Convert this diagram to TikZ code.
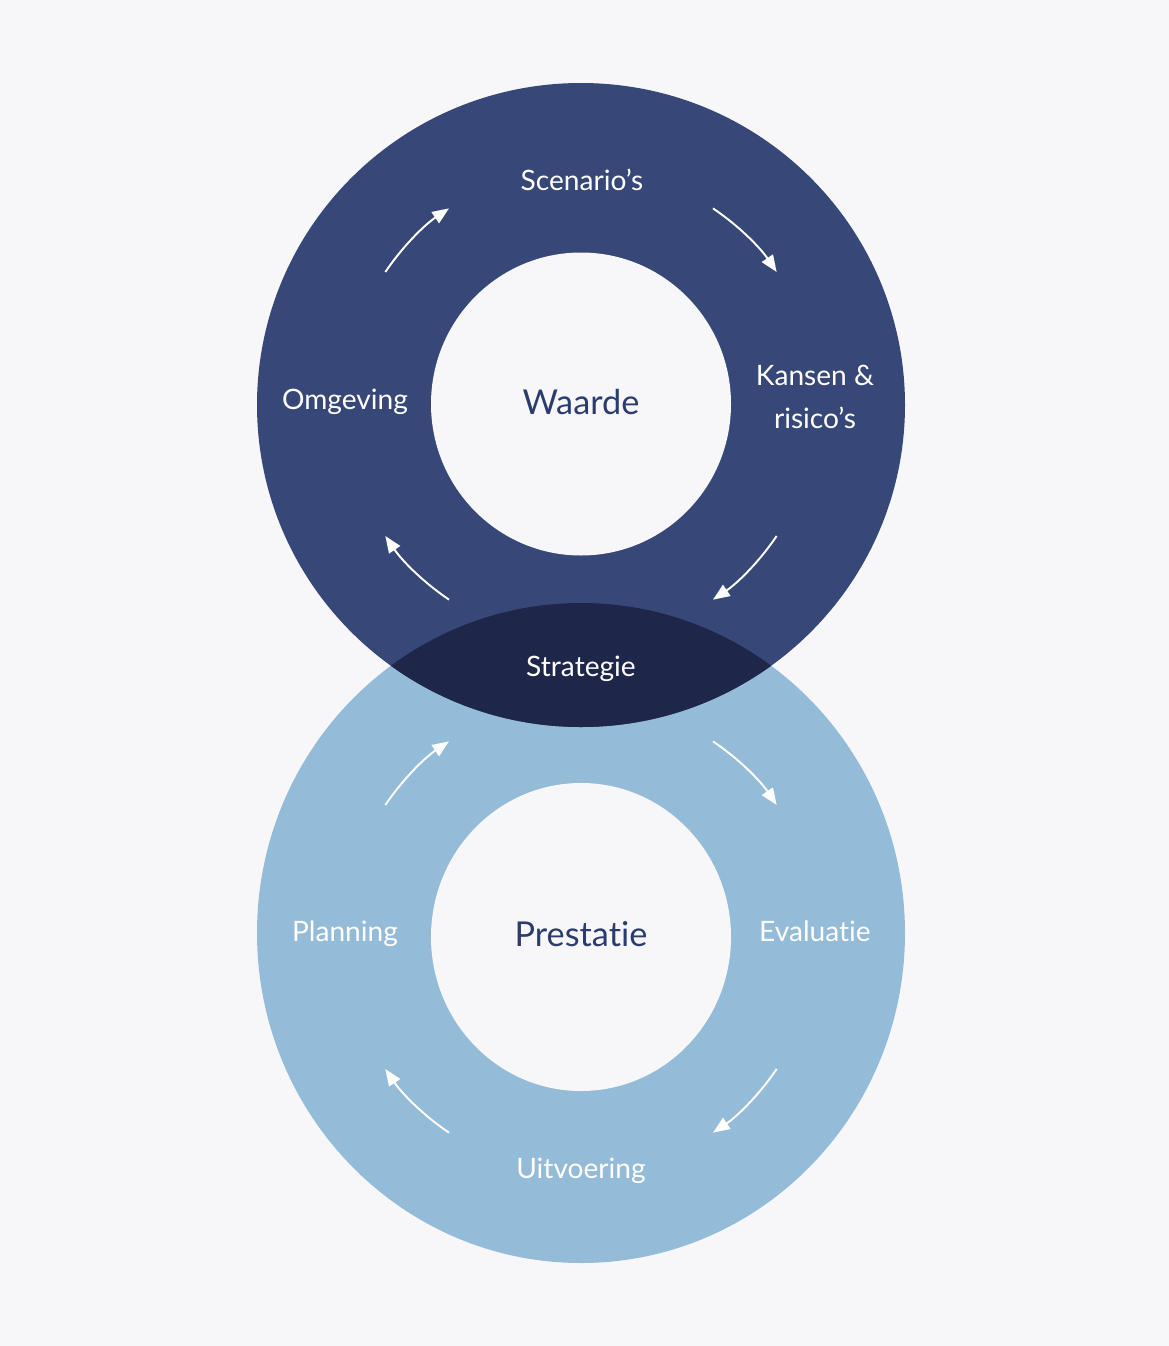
\documentclass[tikz,border=0pt]{standalone}
\usepackage{fontspec}
\setmainfont{Lato}[Ligatures={TeX,NoCommon}]
\usetikzlibrary{arrows.meta}
\definecolor{pagebg}{HTML}{F7F7FA}
\definecolor{ringtop}{HTML}{374878}
\definecolor{ringbot}{HTML}{94BBD8}
\definecolor{lensdark}{HTML}{1E264A}
\definecolor{coretext}{HTML}{2B3C6E}
\begin{document}
\begin{tikzpicture}[x=0.02cm,y=-0.02cm,
  lbl/.style={text=white,font=\fontsize{16}{24.4}\selectfont},
  core/.style={text=coretext,font=\fontsize{19.5}{23}\selectfont},
  turn/.style={draw=white,line width=1.1pt,-{Triangle[length=9.5pt,width=7.5pt]}}]
\fill[pagebg] (0,0) rectangle (1169,1346);
\useasboundingbox (0,0) rectangle (1169,1346);
\coordinate (top) at (581,405);
\coordinate (bot) at (581,933);
\coordinate (topcore) at (581,404);
\coordinate (botcore) at (581,937);
% rings
\fill[ringbot] (bot) ellipse[x radius=324,y radius=330];
\fill[ringtop] (top) ellipse[x radius=324,y radius=322];
\begin{scope}
\clip (bot) ellipse[x radius=324,y radius=330];
\fill[lensdark] (top) ellipse[x radius=324,y radius=322];
\end{scope}
\fill[pagebg] (topcore) ellipse[x radius=150,y radius=151.5];
\fill[pagebg] (botcore) ellipse[x radius=150,y radius=154];
% turning arrows
\draw[turn] (topcore) ++(-146:236) arc[start angle=-146,end angle=-124,radius=236];
\draw[turn] (topcore) ++(-56:236) arc[start angle=-56,end angle=-34,radius=236];
\draw[turn] (topcore) ++(34:236) arc[start angle=34,end angle=56,radius=236];
\draw[turn] (topcore) ++(124:236) arc[start angle=124,end angle=146,radius=236];
\draw[turn] (botcore) ++(-146:236) arc[start angle=-146,end angle=-124,radius=236];
\draw[turn] (botcore) ++(-56:236) arc[start angle=-56,end angle=-34,radius=236];
\draw[turn] (botcore) ++(34:236) arc[start angle=34,end angle=56,radius=236];
\draw[turn] (botcore) ++(124:236) arc[start angle=124,end angle=146,radius=236];
% labels
\node[lbl] (scen) at (582,180) {Scenario's};
\node[lbl,align=center] (kans) at (815,397) {Kansen \&\\risico's};
\node[lbl] (omg) at (345,402) {Omgeving};
\node[core] (waarde) at (581,402) {Waarde};
\node[lbl] (strat) at (581,669) {Strategie};
\node[lbl] (plan) at (345,934) {Planning};
\node[core] (prest) at (581,934) {Prestatie};
\node[lbl] (eval) at (815,931) {Evaluatie};
\node[lbl] (uitv) at (581,1171) {Uitvoering};
\end{tikzpicture}
\end{document}
